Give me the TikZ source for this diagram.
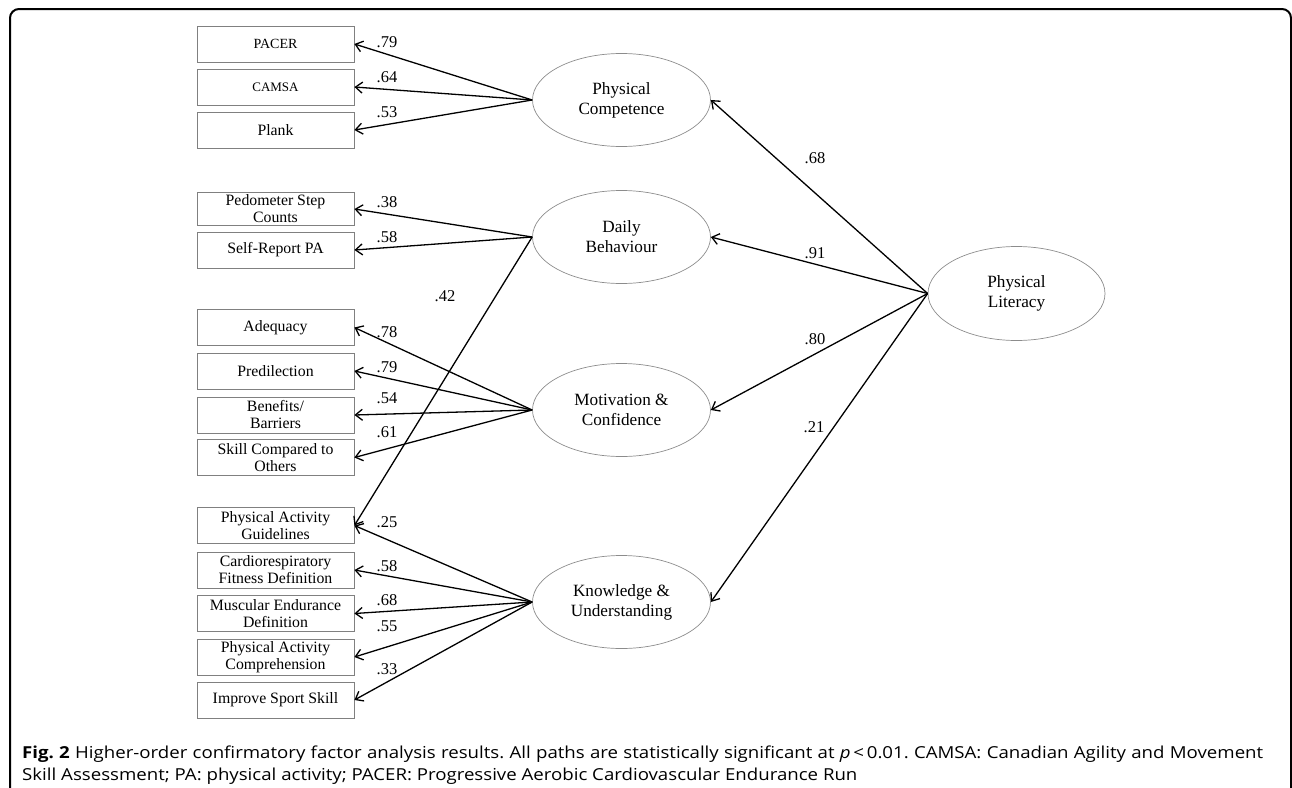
\documentclass[tikz,border=0pt]{standalone}
\usepackage{fontspec}
\setmainfont{Liberation Serif}
\newfontfamily\capfont[FakeStretch=1.13]{Open Sans}
\usetikzlibrary{shapes.geometric,arrows.meta}
\definecolor{boxgray}{gray}{0.5}
\definecolor{ellgray}{gray}{0.55}
\begin{document}
\frenchspacing
\begin{tikzpicture}[x=1pt,y=-1pt,
  ind/.style={draw=boxgray, line width=0.8pt, minimum width=157pt, minimum height=36pt, inner sep=0pt, align=center, font=\fontsize{15.8}{17}\selectfont},
  lat/.style={draw=ellgray, ellipse, line width=0.7pt, minimum width=178pt, minimum height=93pt, inner sep=0pt, align=center, font=\fontsize{17.2}{20}\selectfont},
  arr/.style={-{Straight Barb[length=7pt,width=11pt]}, line width=1.3pt},
  lab/.style={font=\fontsize{16.5}{18}\selectfont, inner sep=0pt},
  captext/.style={anchor=base west, inner sep=0pt, font=\capfont\fontsize{16.5}{22}\selectfont}]
\useasboundingbox (0,0) rectangle (1292,787);
\clip (0,0) rectangle (1292,787);
\draw[line width=2pt, rounded corners=9pt] (10,9) rectangle (1291,820);
% indicators
\node[ind] (pacer) at (275.5,44) {\fontsize{14}{16}\selectfont PACER};
\node[ind] (camsa) at (275.5,87) {\fontsize{13}{16}\selectfont CAMSA};
\node[ind] (plank) at (275.5,130) {Plank};
\node[ind, minimum height=33pt] (pedo) at (275.5,209) {Pedometer Step\\Counts};
\node[ind] (self) at (275.5,250) {Self-Report PA};
\node[ind] (adeq) at (275.5,327.5) {Adequacy};
\node[ind] (pred) at (275.5,371) {Predilection};
\node[ind] (bene) at (275.5,415) {Benefits/\\Barriers};
\node[ind] (skill) at (275.5,457.5) {Skill Compared to\\Others};
\node[ind] (pag) at (275.5,525.5) {Physical Activity\\Guidelines};
\node[ind] (cardio) at (275.5,570) {Cardiorespiratory\\Fitness Definition};
\node[ind] (musc) at (275.5,613.5) {Muscular Endurance\\Definition};
\node[ind] (pacomp) at (275.5,657) {Physical Activity\\Comprehension};
\node[ind] (sport) at (275.5,700) {Improve Sport Skill};
% latent
\node[lat] (pc) at (621.5,100) {Physical\\Competence};
\node[lat] (db) at (621.5,237) {Daily\\Behaviour};
\node[lat] (mc) at (621.5,410) {Motivation \&\\Confidence};
\node[lat] (ku) at (621.5,602) {Knowledge \&\\Understanding};
\node[lat, minimum width=177pt, minimum height=94pt] (pl) at (1016.5,293.5) {Physical\\Literacy};
% loadings
\draw[arr] (pc.west) -- (pacer.east);
\draw[arr] (pc.west) -- (camsa.east);
\draw[arr] (pc.west) -- (plank.east);
\draw[arr] (db.west) -- (pedo.east);
\draw[arr] (db.west) -- (self.east);
\draw[arr] (db.west) -- (pag.east);
\draw[arr] (mc.west) -- (adeq.east);
\draw[arr] (mc.west) -- (pred.east);
\draw[arr] (mc.west) -- (bene.east);
\draw[arr] (mc.west) -- (skill.east);
\draw[arr] (ku.west) -- (pag.east);
\draw[arr] (ku.west) -- (cardio.east);
\draw[arr] (ku.west) -- (musc.east);
\draw[arr] (ku.west) -- (pacomp.east);
\draw[arr] (ku.west) -- (sport.east);
\draw[arr] (pl.west) -- (pc.east);
\draw[arr] (pl.west) -- (db.east);
\draw[arr] (pl.west) -- (mc.east);
\draw[arr] (pl.west) -- (ku.east);
% labels
\node[lab] (l1) at (387,42.5) {.79};
\node[lab] (l2) at (387,77.5) {.64};
\node[lab] (l3) at (387,111.7) {.53};
\node[lab] (l4) at (387,202.5) {.38};
\node[lab] (l5) at (387,237.5) {.58};
\node[lab] (l6) at (445,296) {.42};
\node[lab] (l7) at (387,332) {.78};
\node[lab] (l8) at (387,367) {.79};
\node[lab] (l9) at (387,398) {.54};
\node[lab] (l10) at (387,431.7) {.61};
\node[lab] (l11) at (387,521.7) {.25};
\node[lab] (l12) at (387,565.8) {.58};
\node[lab] (l13) at (387,600.5) {.68};
\node[lab] (l14) at (387,625.8) {.55};
\node[lab] (l15) at (387,669) {.33};
\node[lab] (l16) at (815,158) {.68};
\node[lab] (l17) at (815,253) {.91};
\node[lab] (l18) at (815,339) {.80};
\node[lab] (l19) at (814,427) {.21};
% caption
\node[captext] (cap1) at (22,758) {\makebox[1241pt][s]{\textbf{Fig. 2} Higher-order confirmatory factor analysis results. All paths are statistically significant at \textit{p}\,<\,0.01. CAMSA: Canadian Agility and Movement}};
\node[captext] (cap2) at (22,780) {Skill Assessment; PA: physical activity; PACER: Progressive Aerobic Cardiovascular Endurance Run};
\end{tikzpicture}
\end{document}
